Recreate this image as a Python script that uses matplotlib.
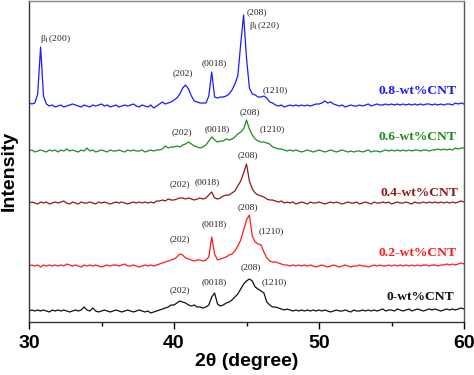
import matplotlib
matplotlib.use("Agg")
import matplotlib.pyplot as plt
import numpy as np

plt.rcParams["mathtext.fontset"] = "stix"

# 2-theta grid, 0.2 degree steps from 30 to 60
two_theta = np.linspace(30, 60, 151)

# relative intensities, one row per degree
cnt_0 = [
    0, 1, 0, 1, 0,  1, 0, -1, 1, 0,  1, 0, 1, 0, -1,  0, 1, 0, 1, 4,
    1, 0, 3, 0, -1,  0, 1, 0, -1, 0,  1, 0, -1, 0, 1,  0, -1, 0, 1, 0,
    -1, 0, -2, -1, 0,  1, 2, 3, 4, 6,  6, 8, 10, 9, 8,  6, 5, 6, 4, 4,
    3, 4, 6, 14, 18,  7, 5, 6, 8, 9,  11, 14, 17, 22, 27,  30, 32, 30, 24, 22,
    20, 18, 9, 6, 4,  4, 3, 2, 1, 2,  1, 0, 1, 0, 1,  0, 1, 0, 1, 0,
    1, 0, 1, 0, -1,  0, 1, 0, 0, 1,  0, -1, 1, 0, 0,  1, 0, 1, 0, 1,
    0, 1, 2, 0, 1,  1, 0, 2, 1, 0,  1, 2, 0, 1, 2,  1, 0, 1, 2, 1,
    2, 1, 0, 1, 2,  1, 2, 1, 2, 3,  2,
]
cnt_02 = [
    0, 1, 0, 1, -1,  1, 0, 1, 0, 1,  0, 1, 0, 2, 1,  0, 1, 0, -1, 1,
    0, 1, 0, 1, 0,  -1, 0, 1, 0, 1,  1, 0, 1, 2, 0,  0, 1, 0, -1, 0,
    1, 0, 1, 0, 1,  2, 3, 4, 5, 6,  7, 9, 12, 11, 8,  7, 6, 5, 6, 6,
    5, 6, 9, 29, 12,  6, 7, 8, 9, 11,  12, 15, 20, 26, 36,  46, 51, 30, 24, 22,
    21, 14, 8, 5, 4,  4, 3, 2, 1, 1,  0, 1, 0, 1, 0,  1, 0, 1, 0, -1,
    0, 1, 0, -1, 0,  1, 0, -1, 0, 1,  0, -1, 0, 0, 1,  0, 0, -1, 0, 1,
    0, 1, 0, 0, 1,  0, 1, 0, 1, 0,  1, 0, 1, 0, 1,  0, 1, 1, 0, 1,
    1, 0, 1, 1, 2,  1, 2, 1, 2, 3,  2,
]
cnt_04 = [
    0, 1, 0, -1, 1,  0, 1, -1, 0, 1,  0, 1, 2, 0, -1,  1, 0, -1, 1, 0,
    0, 1, 0, -1, 1,  0, 1, 0, -1, 0,  1, 0, 1, 0, -1,  0, 1, 0, 1, 0,
    1, 0, 1, 0, 2,  2, 3, 2, 4, 3,  3, 4, 5, 5, 4,  5, 4, 3, 4, 5,
    4, 5, 8, 11, 5,  4, 5, 7, 8, 8,  10, 12, 17, 22, 30,  39, 22, 14, 10, 8,
    7, 6, 4, 3, 3,  2, 1, 2, 0, 1,  0, 1, -1, 0, 1,  0, -1, 1, 0, 0,
    1, 0, -1, 0, 1,  0, 1, 0, -1, 0,  1, 0, 0, 1, -1,  0, 1, 0, -1, 1,
    0, 0, 1, 0, 1,  -1, 0, 1, 0, 0,  1, 0, -1, 1, 0,  0, 1, 0, 1, 0,
    1, 0, 1, 0, 1,  0, 1, 0, 1, 2,  1,
]
cnt_06 = [
    0, 1, -1, 0, 1,  0, -1, 1, 0, 1,  -1, 1, 0, 2, 0,  1, 0, -1, 1, 0,
    3, 0, 1, -1, 0,  1, 0, -1, 1, 0,  0, 1, 0, -1, 1,  0, 1, 0, 0, 1,
    -1, 0, 1, 0, 1,  1, 2, 5, 3, 4,  4, 5, 4, 6, 7,  9, 7, 5, 4, 3,
    4, 6, 10, 14, 11,  9, 10, 10, 12, 11,  12, 14, 17, 19, 22,  31, 22, 16, 12, 10,
    9, 9, 8, 7, 4,  3, 2, 2, 1, 0,  1, 0, 1, 0, -1,  0, 1, 0, -1, 0,
    1, 0, -1, 0, 1,  0, -1, 0, 1, 0,  -1, 0, -1, 0, 0,  -1, 0, 1, -1, 0,
    0, -1, 0, 1, 0,  1, 0, 1, 0, 1,  0, 1, 0, 1, 1,  0, 1, 1, 0, 1,
    1, 2, 1, 2, 1,  2, 1, 3, 2, 3,  3,
]
cnt_08 = [
    3, 2, 3, 12, 59,  10, 2, 0, 1, -1,  0, 1, -1, 0, 1,  2, 1, 0, -1, 1,
    0, -1, 1, 0, 1,  2, 0, 1, -1, 0,  1, -1, 0, 1, 0,  1, 2, 0, -1, 1,
    0, -1, 1, -2, 0,  2, 4, 2, 3, 4,  6, 8, 12, 18, 21,  17, 10, 5, 4, 3,
    3, 3, 10, 34, 9,  8, 9, 9, 10, 12,  16, 22, 30, 62, 91,  48, 18, 12, 11, 9,
    9, 10, 8, 4, 3,  1, 0, 1, -1, 0,  1, 0, 1, 0, 1,  0, 1, 0, 1, 2,
    2, 3, 5, 3, 4,  2, 1, 0, 1, -1,  0, 1, 0, 0, 1,  0, 1, 2, 0, 1,
    2, 1, 1, 2, 1,  2, 1, 2, 1, 2,  1, 2, 1, 2, 1,  2, 1, 2, 2, 1,
    2, 1, 2, 1, 2,  2, 1, 3, 2, 3,  2,
]

samples = ["0-wt%CNT", "0.2-wt%CNT", "0.4-wt%CNT", "0.6-wt%CNT", "0.8-wt%CNT"]
patterns = [cnt_0, cnt_02, cnt_04, cnt_06, cnt_08]
offsets = [11, 56, 119, 171, 216]
colors = ["#111111", "#ff1a1a", "#8b1a1a", "#1f8a1f", "#1a1aff"]

# sample label anchors (right edge) and peak labels: (2theta, height, text)
sample_label_pos = [(59.3, 25), (59.5, 69), (59.65, 129), (59.5, 185), (59.5, 231)]
peak_labels = [
    [(40.4, 32, "(202)"), (42.8, 40, "(0018)"), (45.3, 55, "(208)"), (46.9, 40, "(1210)")],
    [(40.4, 83, "(202)"), (42.8, 98, "(0018)"), (45.1, 115, "(208)"), (46.7, 91, "(1210)")],
    [(40.4, 138, "(202)"), (42.3, 140, "(0018)"), (45.1, 167, "(208)")],
    [(40.55, 190, "(202)"), (42.95, 193, "(0018)"), (45.2, 210, "(208)"), (46.8, 193, "(1210)")],
    [(31.85, 283, "β$_1$(200)"), (40.6, 249, "(202)"), (42.8, 259, "(0018)"),
     (45.7, 310, "(208)"), (46.25, 296, "β$_1$(220)"), (47.0, 232, "(1210)")],
]

fig = plt.figure(figsize=(4.74, 3.75), dpi=100)
ax = fig.add_axes([29 / 474, 1 - 322 / 375, 435 / 474, 321 / 375])

for y, off, c in zip(patterns, offsets, colors):
    ax.plot(two_theta, np.array(y) + off, color=c, lw=0.9)

for (lx, ly), name, c in zip(sample_label_pos, samples, colors):
    ax.text(lx, ly, name, color=c, ha="right", va="center", fontsize=9.7,
            fontweight="bold", family="Liberation Serif")

for labels in peak_labels:
    for px, py, t in labels:
        ax.text(px, py, t, ha="center", va="center", fontsize=6.8,
                family="Liberation Serif", color="#222222")

ax.set_xlim(30, 60)
ax.set_ylim(0, 321)
ax.set_yticks([])
ax.set_xticks([30, 40, 50, 60])
ax.set_xticks([35, 45, 55], minor=True)
ax.tick_params(axis="x", which="major", length=5, width=1, pad=4, direction="out")
ax.tick_params(axis="x", which="minor", length=3, width=1, direction="out")
for lab in ax.get_xticklabels():
    lab.set_fontfamily("Liberation Sans")
    lab.set_fontweight("bold")
    lab.set_fontsize(14)
for s in ax.spines.values():
    s.set_linewidth(1)
    s.set_color("#333333")
ax.spines["top"].set_color("#888888")
ax.spines["right"].set_color("#555555")

fig.text(247 / 474, 1 - 362 / 375, "2θ (degree)", ha="center", va="center",
         fontsize=14, fontweight="bold", family="Liberation Sans")
fig.text(9 / 474, 1 - 171 / 375, "Intensity", ha="center", va="center",
         rotation=90, fontsize=14, fontweight="bold", family="Liberation Sans")

fig.savefig("out.png", dpi=100)
